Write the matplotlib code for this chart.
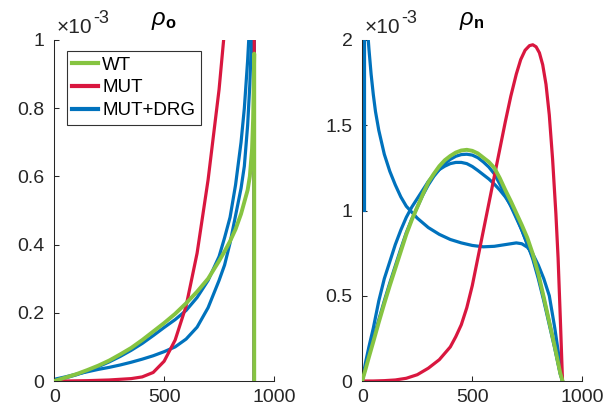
import matplotlib
matplotlib.use("Agg")
import matplotlib.pyplot as plt
from matplotlib.lines import Line2D

plt.rcParams["font.family"] = ["Liberation Sans", "DejaVu Sans"]
plt.rcParams["mathtext.fontset"] = "custom"
plt.rcParams["mathtext.rm"] = "Liberation Sans"
plt.rcParams["mathtext.it"] = "Liberation Sans:italic"
plt.rcParams["mathtext.bf"] = "Liberation Sans:bold"

# ---- data (density values in units of 1e-3) ----
x_o = [0, 50, 100, 150, 200, 250, 300, 350, 400, 450, 500, 550, 600, 650,
       700, 750, 775, 800, 825, 850, 865, 880, 890, 900, 905, 910, 910]
wt_o = [0, 0.01, 0.02, 0.032, 0.045, 0.06, 0.078, 0.097, 0.12, 0.145, 0.17,
        0.197, 0.228, 0.262, 0.3, 0.352, 0.38, 0.41, 0.445, 0.49, 0.525,
        0.56, 0.6, 0.68, 0.77, 0.96, 0]
mut_o = [0, 0, 0.0005, 0.001, 0.002, 0.003, 0.005, 0.007, 0.012, 0.025,
         0.058, 0.12, 0.22, 0.375, 0.59, 0.855, 1.03, 1.25, 1.5, 1.8, 2.0,
         2.25, 2.4, 2.6, 2.7, 2.8, 0]
drg_a_o = [0.003, 0.009, 0.018, 0.029, 0.042, 0.056, 0.072, 0.09, 0.11,
           0.133, 0.157, 0.18, 0.207, 0.245, 0.295, 0.365, 0.42, 0.48,
           0.575, 0.7, 0.8, 0.94, 1.06, 1.17, 1.22, 1.28, 0]
drg_b_o = [0.005, 0.012, 0.02, 0.027, 0.034, 0.04, 0.047, 0.055, 0.064,
           0.074, 0.086, 0.1, 0.123, 0.158, 0.215, 0.295, 0.34, 0.405,
           0.485, 0.565, 0.63, 0.75, 0.87, 1.05, 1.12, 1.2, 0]

x_n = [0, 5, 15, 30, 50, 75, 100, 125, 150, 175, 200, 225, 250, 275, 300,
       325, 350, 375, 400, 425, 450, 475, 500, 525, 550, 575, 600, 625, 650,
       675, 700, 725, 750, 775, 800, 825, 850, 875, 900, 910]
wt_n = [0, 0.025, 0.07, 0.14, 0.23, 0.345, 0.455, 0.56, 0.66, 0.76, 0.86,
        0.945, 1.02, 1.095, 1.165, 1.215, 1.26, 1.295, 1.32, 1.34, 1.352,
        1.356, 1.35, 1.335, 1.31, 1.285, 1.25, 1.19, 1.12, 1.055, 0.985,
        0.915, 0.84, 0.745, 0.63, 0.49, 0.345, 0.2, 0.045, 0]
drg_a_n = [0, 0.03, 0.08, 0.155, 0.25, 0.36, 0.47, 0.575, 0.675, 0.775,
           0.87, 0.95, 1.02, 1.09, 1.15, 1.2, 1.24, 1.275, 1.3, 1.318,
           1.328, 1.33, 1.325, 1.31, 1.285, 1.255, 1.215, 1.155, 1.09,
           1.025, 0.955, 0.885, 0.805, 0.715, 0.6, 0.47, 0.33, 0.19, 0.04, 0]
drg_b_n = [0, 0.04, 0.11, 0.2, 0.31, 0.47, 0.6, 0.7, 0.8, 0.885, 0.96,
           1.02, 1.07, 1.12, 1.17, 1.21, 1.24, 1.26, 1.275, 1.282, 1.282,
           1.275, 1.258, 1.235, 1.21, 1.185, 1.155, 1.12, 1.08, 1.03, 0.965,
           0.885, 0.8, 0.725, 0.615, 0.485, 0.345, 0.2, 0.045, 0]
x_mut_n = [0, 50, 100, 150, 200, 250, 300, 350, 400, 425, 450, 475, 500,
           525, 550, 575, 600, 625, 650, 675, 700, 720, 740, 760, 775, 790,
           805, 820, 835, 850, 865, 880, 890, 900, 910]
mut_n = [0, 0, 0.002, 0.006, 0.016, 0.037, 0.075, 0.125, 0.2, 0.26, 0.33,
         0.43, 0.56, 0.72, 0.88, 1.04, 1.2, 1.36, 1.52, 1.67, 1.8, 1.885,
         1.94, 1.967, 1.972, 1.96, 1.925, 1.855, 1.74, 1.56, 1.3, 0.98,
         0.72, 0.37, 0]
x_drg_c_n = [10, 10, 15, 20, 25, 30, 40, 50, 60, 75, 100, 125, 150, 175,
             200, 250, 300, 350, 400, 450, 500, 550, 600, 650, 700, 725,
             750, 775, 800, 825, 850, 875, 900, 910]
drg_c_n = [1.0, 2.6, 2.35, 2.17, 2.04, 1.95, 1.8, 1.68, 1.58, 1.47, 1.33,
           1.23, 1.15, 1.08, 1.025, 0.955, 0.9, 0.86, 0.83, 0.81, 0.795,
           0.787, 0.79, 0.8, 0.81, 0.805, 0.785, 0.745, 0.68, 0.6, 0.5,
           0.31, 0.09, 0]

labels = ["WT", "MUT", "MUT+DRG"]
x_ticks = [0, 500, 1000]
yticks_o = [0, 0.2, 0.4, 0.6, 0.8, 1]
yticks_n = [0, 0.5, 1, 1.5, 2]

GREEN = "#86C441"
RED = "#D9173F"
BLUE = "#0072BD"
AXC = "#262626"

W, H = 603, 412
fig = plt.figure(figsize=(W / 100, H / 100), dpi=100)


def px_rect(x0, x1, y0, y1):
    return [x0 / W, 1 - y1 / H, (x1 - x0) / W, (y1 - y0) / H]


ax1 = fig.add_axes(px_rect(54.3, 274.0, 40.0, 381.0))
ax2 = fig.add_axes(px_rect(362.3, 582.3, 40.0, 381.0))

lw_b, lw_r, lw_g = 2.3, 2.3, 2.8

ax1.plot(x_o, drg_a_o, color=BLUE, lw=lw_b, zorder=2)
ax1.plot(x_o, drg_b_o, color=BLUE, lw=lw_b, zorder=2)
ax1.plot(x_o, mut_o, color=RED, lw=lw_r, zorder=3)
ax1.plot(x_o, wt_o, color=GREEN, lw=lw_g, zorder=4)

ax2.plot(x_drg_c_n, drg_c_n, color=BLUE, lw=lw_b, zorder=2)
ax2.plot(x_n, drg_b_n, color=BLUE, lw=lw_b, zorder=2)
ax2.plot(x_n, drg_a_n, color=BLUE, lw=lw_b, zorder=2)
ax2.plot(x_mut_n, mut_n, color=RED, lw=lw_r, zorder=3)
ax2.plot(x_n, wt_n, color=GREEN, lw=lw_g, zorder=4)

for ax, yt, ymax in ((ax1, yticks_o, 1), (ax2, yticks_n, 2)):
    ax.set_xlim(0, 1000)
    ax.set_ylim(0, ymax)
    ax.set_xticks(x_ticks)
    ax.set_xticklabels([str(v) for v in x_ticks])
    ax.set_yticks(yt)
    ax.set_yticklabels([("%g" % v) for v in yt])
    for s in ("top", "right"):
        ax.spines[s].set_visible(False)
    for s in ("left", "bottom"):
        ax.spines[s].set_color(AXC)
        ax.spines[s].set_linewidth(0.75)
    ax.tick_params(direction="in", length=3.4, width=0.75, colors=AXC,
                   labelsize=14, labelcolor=AXC)
    ax.tick_params(axis="x", pad=6)
    ax.tick_params(axis="y", pad=7)

# panel titles
fig.text(164 / W, 1 - 21 / H, r"$\rho_{\mathbf{o}}$", ha="center",
         va="center", fontsize=17, color="black")
fig.text(472 / W, 1 - 21 / H, r"$\rho_{\mathbf{n}}$", ha="center",
         va="center", fontsize=17, color="black")

# exponent labels
for x0 in (57, 365):
    fig.text(x0 / W, 1 - 33 / H, "\u00d710", ha="left", va="baseline",
             fontsize=15, color=AXC)
    fig.text((x0 + 36) / W, 1 - 23 / H, "-3", ha="left", va="baseline",
             fontsize=13, color=AXC)

handles = [Line2D([], [], color=c, lw=3) for c in (GREEN, RED, BLUE)]
leg = ax1.legend(handles, labels, loc="upper left",
                 bbox_to_anchor=(0.056, 0.968), borderaxespad=0,
                 fontsize=13.5, frameon=True, fancybox=False,
                 handlelength=1.4, handletextpad=0.2, labelspacing=0.3,
                 borderpad=0.3)
leg.get_frame().set_edgecolor("black")
leg.get_frame().set_linewidth(0.8)

fig.savefig("out.png", dpi=100)
